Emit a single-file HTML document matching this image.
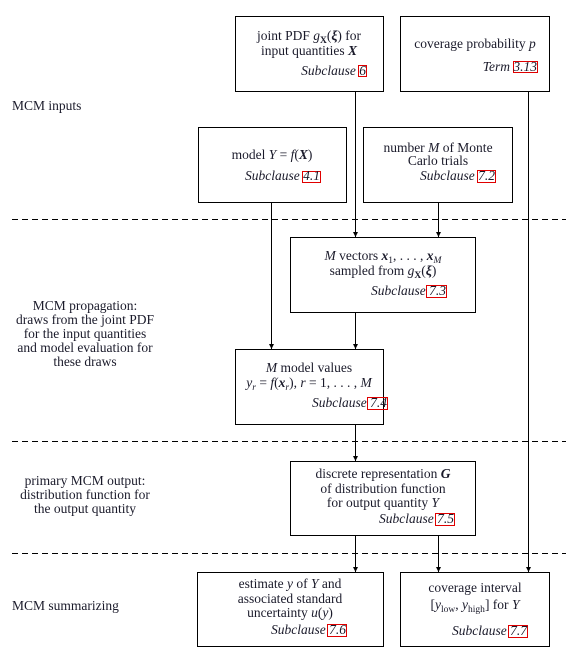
<!DOCTYPE html>
<html><head><style>body{margin:0;background:#fff}svg{display:block}svg text{font-family:"Liberation Serif","DejaVu Serif",serif;font-size:13.5px;fill:#1a1a2a}.i{font-style:italic}</style></head><body>
<svg width="571" height="653" viewBox="0 0 571 653" xmlns="http://www.w3.org/2000/svg" font-family="Liberation Serif, serif">
<defs><marker id="a" markerWidth="6" markerHeight="6" refX="5" refY="3" orient="auto" markerUnits="userSpaceOnUse"><path d="M0,0.5 L5,3 L0,5.5 z" fill="#000"/></marker></defs>
<g stroke="#000" stroke-width="1" fill="none">
<rect x="235.5" y="16.5" width="148" height="75"/>
<rect x="400.5" y="16.5" width="149" height="75"/>
<rect x="198.5" y="127.5" width="148" height="75"/>
<rect x="363.5" y="127.5" width="149" height="75"/>
<rect x="290.5" y="237.5" width="185" height="75"/>
<rect x="235.5" y="349.5" width="148" height="75"/>
<rect x="290.5" y="461.5" width="185" height="74"/>
<rect x="197.5" y="572.5" width="186" height="74"/>
<rect x="400.5" y="572.5" width="149" height="74"/>
<g stroke-dasharray="6,4"><line x1="12" y1="219.5" x2="566" y2="219.5"/><line x1="12" y1="441.5" x2="566" y2="441.5"/><line x1="12" y1="553.5" x2="566" y2="553.5"/></g>
<g marker-end="url(#a)">
<line x1="355.5" y1="92" x2="355.5" y2="237"/>
<line x1="528.5" y1="92" x2="528.5" y2="572"/>
<line x1="271.5" y1="203" x2="271.5" y2="349"/>
<line x1="438.5" y1="203" x2="438.5" y2="237"/>
<line x1="355.5" y1="313" x2="355.5" y2="349"/>
<line x1="355.5" y1="425" x2="355.5" y2="461"/>
<line x1="355.5" y1="536" x2="355.5" y2="572"/>
<line x1="438.5" y1="536" x2="438.5" y2="572"/>
</g>
<g stroke="#e00000"><rect x="358.5" y="65.5" width="8" height="11"/><rect x="513.5" y="61.5" width="24" height="11"/><rect x="302.5" y="171.5" width="18" height="11"/><rect x="477.5" y="170.5" width="18" height="12"/><rect x="426.5" y="285.5" width="20" height="12"/><rect x="367.5" y="397.5" width="20" height="12"/><rect x="435.5" y="513.5" width="19" height="12"/><rect x="327.5" y="624.5" width="19" height="12"/><rect x="508.5" y="625.5" width="19" height="12"/></g>
</g>
<g text-anchor="middle">
<text x="309" y="40">joint PDF <tspan class="i">g</tspan><tspan font-size="9.5" font-weight="bold" dy="3">X</tspan><tspan dy="-3">(</tspan><tspan font-weight="bold" class="i">ξ</tspan>) for</text>
<text x="309" y="55">input quantities <tspan class="i" font-weight="bold">X</tspan></text>
<text x="475" y="48">coverage probability <tspan class="i">p</tspan></text>
<text x="272" y="159">model <tspan class="i">Y</tspan> = <tspan class="i">f</tspan>(<tspan class="i" font-weight="bold">X</tspan>)</text>
<text x="438" y="152">number <tspan class="i">M</tspan> of Monte</text>
<text x="438" y="165">Carlo trials</text>
<text x="383" y="260"><tspan class="i">M</tspan> vectors <tspan class="i" font-weight="bold">x</tspan><tspan font-size="9.5" dy="3">1</tspan><tspan dy="-3">, . . . , </tspan><tspan class="i" font-weight="bold">x</tspan><tspan font-size="9.5" class="i" dy="3">M</tspan></text>
<text x="383" y="275">sampled from <tspan class="i">g</tspan><tspan font-size="9.5" font-weight="bold" dy="3">X</tspan><tspan dy="-3">(</tspan><tspan font-weight="bold" class="i">ξ</tspan>)</text>
<text x="309" y="372"><tspan class="i">M</tspan> model values</text>
<text x="309" y="387"><tspan class="i">y</tspan><tspan font-size="9.5" class="i" dy="3">r</tspan><tspan dy="-3"> = </tspan><tspan class="i">f</tspan>(<tspan class="i" font-weight="bold">x</tspan><tspan font-size="9.5" class="i" dy="3">r</tspan><tspan dy="-3">), </tspan><tspan class="i">r</tspan> = 1, . . . , <tspan class="i">M</tspan></text>
<text x="383" y="478">discrete representation <tspan class="i" font-weight="bold">G</tspan></text>
<text x="383" y="493">of distribution function</text>
<text x="383" y="507">for output quantity <tspan class="i">Y</tspan></text>
<text x="290" y="588">estimate <tspan class="i">y</tspan> of <tspan class="i">Y</tspan> and</text>
<text x="290" y="603">associated standard</text>
<text x="290" y="617">uncertainty <tspan class="i">u</tspan>(<tspan class="i">y</tspan>)</text>
<text x="475" y="592">coverage interval</text>
<text x="475" y="609">[<tspan class="i">y</tspan><tspan font-size="9.5" dy="3">low</tspan><tspan dy="-3">, </tspan><tspan class="i">y</tspan><tspan font-size="9.5" dy="3">high</tspan><tspan dy="-3">] for </tspan><tspan class="i">Y</tspan></text>
<text x="85" y="310">MCM propagation:</text>
<text x="85" y="324">draws from the joint PDF</text>
<text x="85" y="338">for the input quantities</text>
<text x="85" y="352">and model evaluation for</text>
<text x="85" y="366">these draws</text>
<text x="85" y="485">primary MCM output:</text>
<text x="85" y="499">distribution function for</text>
<text x="85" y="513">the output quantity</text>
</g>
<g text-anchor="end">
<text x="366" y="75" class="i">Subclause 6</text>
<text x="537" y="71" class="i">Term 3.13</text>
<text x="320" y="180" class="i">Subclause 4.1</text>
<text x="495" y="180" class="i">Subclause 7.2</text>
<text x="446" y="295" class="i">Subclause 7.3</text>
<text x="387" y="407" class="i">Subclause 7.4</text>
<text x="454" y="523" class="i">Subclause 7.5</text>
<text x="346" y="634" class="i">Subclause 7.6</text>
<text x="527" y="635" class="i">Subclause 7.7</text>
</g>
<text x="12" y="110">MCM inputs</text>
<text x="12" y="610">MCM summarizing</text>
</svg>
</body></html>
